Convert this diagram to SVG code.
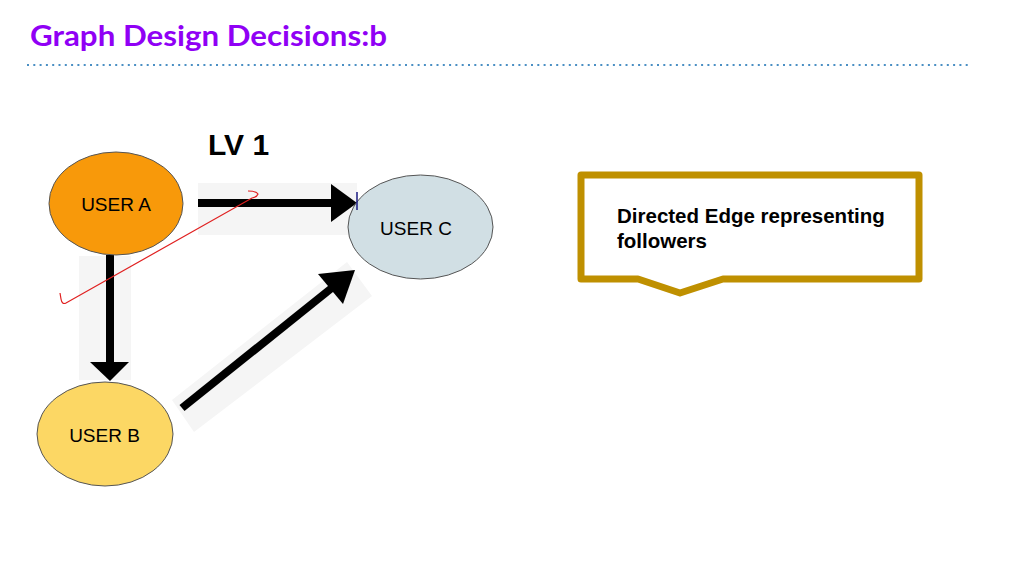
<svg xmlns="http://www.w3.org/2000/svg" width="1024" height="576" viewBox="0 0 1024 576">
<style>
.lbl{font-family:"Liberation Sans",Arial,sans-serif;font-size:19px;fill:#000;text-anchor:middle}
.node{stroke:#555;stroke-width:1}
.edge{stroke:#000;stroke-width:8;fill:none}
.head{fill:#000}
.bg{fill:#f5f5f5}
</style>
<rect width="1024" height="576" fill="#fff"/>
<text x="30" y="46" font-family="Lato,'Open Sans',sans-serif" font-weight="bold" font-size="28" fill="#9000F5" textLength="357" lengthAdjust="spacingAndGlyphs">Graph Design Decisions:b</text>
<line x1="27" y1="65" x2="968" y2="65" stroke="#4a8fc4" stroke-width="2" stroke-dasharray="2 4.3"/>
<text x="208" y="155" font-family="'Liberation Sans',Arial,sans-serif" font-weight="bold" font-size="30" fill="#000">LV 1</text>
<g id="connectors">
<rect class="bg" x="198" y="183" width="159" height="52"/>
<rect class="bg" x="79" y="256" width="52" height="124"/>
<polygon class="bg" points="172,400 194,432 372,296 347,262" fill="#f7f7f7"/>
<line class="edge" x1="198" y1="203" x2="334" y2="203"/>
<polygon class="head" points="331,184 357,203 331,222"/>
<line class="edge" x1="110" y1="255" x2="110" y2="364"/>
<polygon class="head" points="90,362 110,381 129,362"/>
<line class="edge" x1="182" y1="408" x2="333" y2="287"/>
<polygon class="head" points="318,274 355,270 343,304"/>
</g>
<g id="userA">
<ellipse class="node" cx="116" cy="203.5" rx="67" ry="51.5" fill="#F8990A"/>
<text class="lbl" x="116" y="211">USER A</text>
</g>
<g id="userC">
<ellipse class="node" cx="420.5" cy="227" rx="72.5" ry="52" fill="#D1DFE4"/>
<path d="M357,192 L357,210" stroke="#1a1a80" stroke-width="1.5"/>
<text class="lbl" x="416" y="235">USER C</text>
</g>
<g id="userB">
<ellipse class="node" cx="105" cy="434" rx="68" ry="52" fill="#FCD764"/>
<text class="lbl" x="104.5" y="442">USER B</text>
</g>
<g id="callout">
<path d="M581,175 L919,175 L919,279 L723,279 L680,293 L638,279 L581,279 Z" fill="#fff" stroke="#BF9000" stroke-width="7" stroke-linejoin="round"/>
<text x="617" y="223" font-family="'Liberation Sans',Arial,sans-serif" font-weight="bold" font-size="20.5" fill="#000">Directed Edge representing</text>
<text x="617" y="248" font-family="'Liberation Sans',Arial,sans-serif" font-weight="bold" font-size="20.5" fill="#000">followers</text>
</g>
<path d="M248,191 Q256,191 258,194 Q257,197 252,198 L66,303 Q62,305 61,299 L60,293" fill="none" stroke="#e02020" stroke-width="1.2"/>
</svg>
